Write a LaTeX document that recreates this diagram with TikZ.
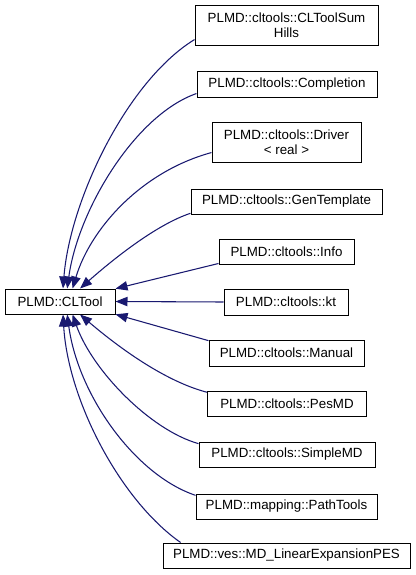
\documentclass[tikz,border=0pt]{standalone}
\usepackage{fontspec}
\setmainfont{Liberation Sans}
\usetikzlibrary{arrows.meta}
\definecolor{edgeblue}{RGB}{25,25,112}

\begin{document}
\begin{tikzpicture}[x=0.75pt,y=-0.75pt,
  box/.style={draw=black,line width=0.75pt,fill=white,inner sep=0pt,align=center,
    minimum height=18.75pt,font=\fontsize{10pt}{11.5pt}\selectfont},
  edge/.style={draw=edgeblue,line width=0.8pt,-{Triangle[length=9pt,width=7pt]}}]
\useasboundingbox (0,0) rectangle (416,575);

\node[box,minimum width=82.5pt] (cltool) at (60,301.5) {PLMD::CLTool};

\node[box,minimum width=137.25pt,minimum height=30pt] (sumhills) at (286.5,25) {PLMD::cltools::CLToolSum\\Hills};
\node[box,minimum width=135pt,minimum height=19.5pt] (completion) at (287,84) {PLMD::cltools::Completion};
\node[box,minimum width=111.75pt,minimum height=30pt] (driver) at (286.5,142) {PLMD::cltools::Driver\\< real >};
\node[box,minimum width=143.25pt] (gentemplate) at (286.5,201.5) {PLMD::cltools::GenTemplate};
\node[box,minimum width=101.25pt] (info) at (286.5,251.5) {PLMD::cltools::Info};
\node[box,minimum width=93pt,minimum height=19.5pt] (kt) at (286,302) {PLMD::cltools::kt};
\node[box,minimum width=116.25pt,minimum height=19.5pt] (manual) at (286.5,353) {PLMD::cltools::Manual};
\node[box,minimum width=119.25pt] (pesmd) at (287,403.5) {PLMD::cltools::PesMD};
\node[box,minimum width=132pt] (simplemd) at (287,454.5) {PLMD::cltools::SimpleMD};
\node[box,minimum width=135.75pt] (pathtools) at (286.5,506.5) {PLMD::mapping::PathTools};
\node[box,minimum width=185.25pt] (linexp) at (286.5,555.5) {PLMD::ves::MD\_LinearExpansionPES};

% above the base class
\draw[edge] (sumhills.189) .. controls (127,81) and (70,200) .. (cltool.77);
\draw[edge] (completion.186) .. controls (135,115) and (78,210) .. (cltool.61);
\draw[edge] (driver.188) .. controls (140,172) and (90,230) .. (cltool.46);
\draw[edge] (gentemplate.187) .. controls (155,225) and (110,262) .. (cltool.33);
\draw[edge] (info.190) -- (cltool.13);
\draw[edge] (kt.west) -- (cltool.east);
% below the base class
\draw[edge] (manual.171) -- (cltool.-13);
\draw[edge] (pesmd.172) .. controls (160,380) and (110,340) .. (cltool.-33);
\draw[edge] (simplemd.173) .. controls (150,430) and (92,370) .. (cltool.-46);
\draw[edge] (pathtools.173) .. controls (135,475) and (78,395) .. (cltool.-61);
\draw[edge] (linexp.173) .. controls (120,500) and (68,400) .. (cltool.-77);
\end{tikzpicture}
\end{document}
